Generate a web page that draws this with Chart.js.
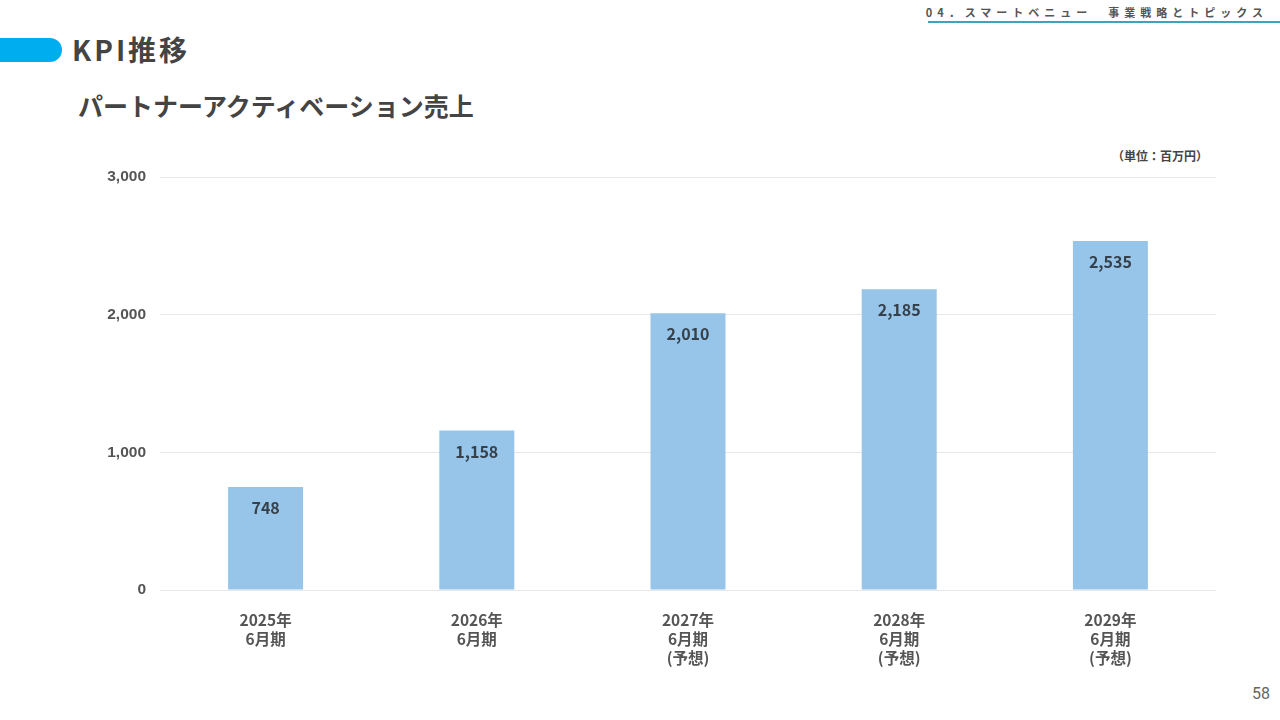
<!DOCTYPE html>
<html>
<head>
<meta charset="utf-8">
<script src="https://cdn.jsdelivr.net/npm/chart.js@4/dist/chart.umd.min.js"></script>
<style>
  html, body { margin:0; padding:0; width:1280px; height:720px; background:#fff; overflow:hidden; }
  body { position:relative; font-family:"Noto Sans CJK JP","Noto Sans",sans-serif; }
  #header { position:absolute; right:12px; top:4px; font-size:11px; font-weight:bold; color:#555; letter-spacing:5px; white-space:nowrap; }
  #hline { position:absolute; left:928px; right:0; top:21px; height:2px; background:#3aa6b9; }
  #pill { position:absolute; left:-20px; top:38px; width:82px; height:24px; border-radius:12px; background:#00ADEE; }
  #title { position:absolute; left:72px; top:29px; font-size:28px; font-weight:bold; color:#444; letter-spacing:3px; }
  #subtitle { position:absolute; left:78px; top:87px; font-size:25px; font-weight:bold; color:#444; }
  #unit { position:absolute; left:1112px; top:147px; font-size:12px; font-weight:bold; color:#444; }
  #page { position:absolute; right:10px; top:684px; font-size:16px; color:#666; font-family:"Roboto","Noto Sans",sans-serif; }
  #wrap { position:absolute; left:0; top:0; width:1280px; height:720px; }
</style>
</head>
<body>
<div id="header">04．スマートベニュー　事業戦略とトピックス</div>
<div id="hline"></div>
<div id="pill"></div>
<div id="title">KPI推移</div>
<div id="subtitle">パートナーアクティベーション売上</div>
<div id="unit">（単位：百万円）</div>
<div id="page">58</div>
<div id="wrap"><canvas id="c" width="1280" height="720"></canvas></div>
<script>
const categories = [
  ["2025年","6月期"],
  ["2026年","6月期"],
  ["2027年","6月期","(予想)"],
  ["2028年","6月期","(予想)"],
  ["2029年","6月期","(予想)"]
];
const salesValues = [748, 1158, 2010, 2185, 2535];
const yTicks = [0, 1000, 2000, 3000];

const labelPlugin = {
  id: 'barLabels',
  afterDatasetsDraw(chart) {
    const ctx = chart.ctx;
    const meta = chart.getDatasetMeta(0);
    ctx.save();
    ctx.font = 'bold 16px "Noto Sans CJK JP","Noto Sans",sans-serif';
    ctx.fillStyle = '#36404a';
    ctx.textAlign = 'center';
    ctx.textBaseline = 'middle';
    meta.data.forEach((bar, i) => {
      ctx.fillText(salesValues[i].toLocaleString('en-US'), bar.x, bar.y + 21);
    });
    ctx.restore();
  }
};

new Chart(document.getElementById('c'), {
  type: 'bar',
  data: {
    labels: categories,
    datasets: [{
      data: salesValues,
      backgroundColor: '#96C5E9',
      borderWidth: 0,
      barPercentage: 0.71,
      categoryPercentage: 0.5
    }]
  },
  options: {
    responsive: false,
    animation: false,
    events: [],
    layout: { padding: { left: 100, right: 64, top: 177, bottom: 0 } },
    plugins: { legend: { display: false }, tooltip: { enabled: false } },
    scales: {
      x: {
        grid: { display: false, drawTicks: false },
        border: { display: false },
        ticks: {
          color: '#555',
          padding: 20,
          font: { family: '"Noto Sans CJK JP","Noto Sans",sans-serif', size: 15.5, weight: 'bold', lineHeight: 1.25 },
          maxRotation: 0,
          autoSkip: false
        },
        afterFit(s) { s.height = 130; }
      },
      y: {
        min: 0, max: 3000,
        afterBuildTicks(s) { s.ticks = yTicks.map(v => ({ value: v })); },
        grid: { color: '#e8e8e8', lineWidth: 1, drawTicks: false },
        border: { display: false },
        ticks: {
          color: '#555',
          padding: 14,
          font: { family: '"Liberation Sans",Arial,sans-serif', size: 15.5, weight: 'bold' },
          callback: v => v.toLocaleString('en-US')
        },
        afterFit(s) { s.width = 60; }
      }
    }
  },
  plugins: [labelPlugin]
});
</script>
</body>
</html>
